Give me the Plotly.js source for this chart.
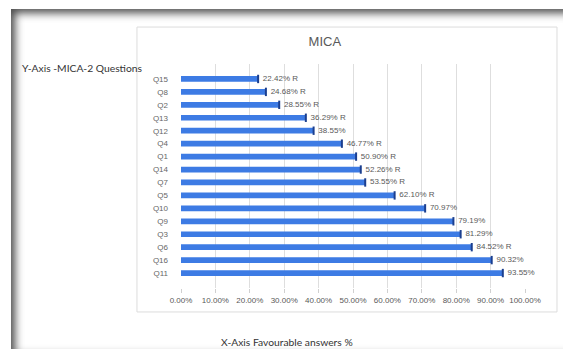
<!DOCTYPE html>
<html>
<head>
<meta charset="utf-8">
<script src="https://cdn.plot.ly/plotly-3.0.1.min.js"></script>
<style>
  html, body { margin: 0; padding: 0; width: 563px; height: 349px; overflow: hidden; background: #ffffff; }
  #frame { position: absolute; left: 11px; top: 9px; width: 560px; height: 345px; background: #fff;
           box-shadow: inset 4px 4px 8px rgba(30,30,30,0.8), inset 0 -6px 6px -2px rgba(0,0,0,0.12); }
  #chart { position: absolute; left: 0; top: 0; width: 563px; height: 349px; }
</style>
</head>
<body>
<div id="frame"></div>
<div id="chart"></div>
<script>
// Data (top to bottom as shown)
const questions = ["Q15","Q8","Q2","Q13","Q12","Q4","Q1","Q14","Q7","Q5","Q10","Q9","Q3","Q6","Q16","Q11"];
const favourable = [22.42, 24.68, 28.55, 36.29, 38.55, 46.77, 50.90, 52.26, 53.55, 62.10, 70.97, 79.19, 81.29, 84.52, 90.32, 93.55];
const suffixes = [" R"," R"," R"," R",""," R"," R"," R"," R"," R","","",""," R","",""];
const tickVals = [0,10,20,30,40,50,60,70,80,90,100];
const tickText = tickVals.map(v => v.toFixed(2) + "%");

const labels = favourable.map((v, i) => v.toFixed(2) + "%" + suffixes[i]);

const bars = {
  type: "bar",
  orientation: "h",
  x: favourable,
  y: questions,
  marker: { color: "#3d7be4" },
  cliponaxis: false,
  hoverinfo: "skip"
};
const ends = {
  type: "scatter",
  mode: "markers+text",
  x: favourable,
  y: questions,
  text: labels,
  textposition: "middle right",
  textfont: { family: "Liberation Sans, Arial, sans-serif", size: 8, color: "#595959" },
  marker: { symbol: "line-ns-open", size: 6, color: "#1b3f8f", line: { color: "#1b3f8f", width: 2 } },
  cliponaxis: false,
  hoverinfo: "skip"
};

const layout = {
  width: 563, height: 349,
  margin: { l: 181, r: 38, t: 64, b: 61 },
  paper_bgcolor: "rgba(0,0,0,0)",
  plot_bgcolor: "rgba(0,0,0,0)",
  showlegend: false,
  bargap: 0.56,
  font: { family: "Liberation Sans, Arial, sans-serif", color: "#595959" },
  title: { text: "MICA", x: 0.577, xanchor: "center", y: 0.88, yanchor: "middle",
           font: { family: "Liberation Sans, Arial, sans-serif", size: 13, color: "#595959" } },
  xaxis: {
    range: [0, 100], tickvals: tickVals, ticktext: tickText,
    showgrid: true, gridcolor: "#dedede", gridwidth: 1,
    zeroline: false, showline: false,
    ticks: "outside", ticklen: 4, tickcolor: "#d0d0d0",
    tickfont: { size: 8, color: "#595959" }, fixedrange: true
  },
  yaxis: {
    autorange: "reversed", type: "category",
    showgrid: false, zeroline: false, showline: false,
    ticks: "", ticklabelstandoff: 12,
    tickfont: { size: 8, color: "#666666" }, fixedrange: true
  },
  shapes: [
    { type: "rect", xref: "paper", yref: "paper", x0: -0.128, x1: 1.093, y0: -0.107, y1: 1.165,
      line: { color: "#dcdcdc", width: 1 }, fillcolor: "rgba(0,0,0,0)", layer: "below" }
  ],
  annotations: [
    { text: "Y-Axis -MICA-2 Questions", xref: "paper", yref: "paper", x: -0.468, y: 0.982,
      xanchor: "left", yanchor: "middle", showarrow: false,
      font: { family: "Lato, Open Sans, sans-serif", size: 10.3, color: "#333333" } },
    { text: "X-Axis Favourable answers %", xref: "paper", yref: "paper", x: 0.110, y: -0.24,
      xanchor: "left", yanchor: "middle", showarrow: false,
      font: { family: "Lato, Open Sans, sans-serif", size: 10.3, color: "#333333" } }
  ]
};

Plotly.newPlot("chart", [bars, ends], layout, { displayModeBar: false, staticPlot: true });
</script>
</body>
</html>
